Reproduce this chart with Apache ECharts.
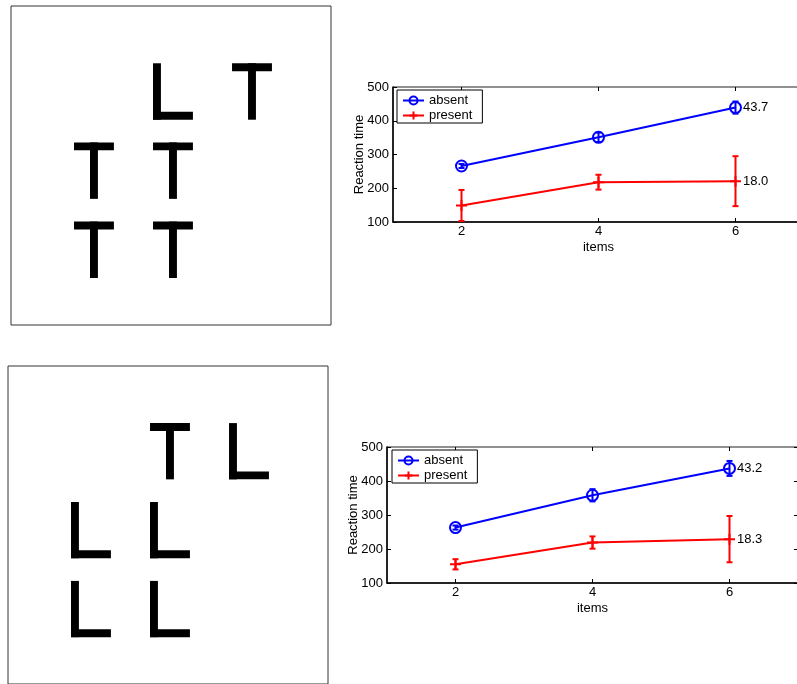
<!DOCTYPE html>
<html>
<head>
<meta charset="utf-8">
<script src="https://cdn.jsdelivr.net/npm/echarts@6/dist/echarts.min.js"></script>
<style>
  html, body { margin: 0; padding: 0; background: #fff; overflow: hidden; }
  /* the figure runs past the right edge of the window, as in the original */
  #chart { width: 812px; height: 684px; }
</style>
</head>
<body>
<div id="chart"></div>
<script>
// search displays (letter grid positions)
const letterCols = [2, 3, 1, 2, 1, 2];
const letterRows = [1, 1, 2, 2, 3, 3];
const topLetters = ['L', 'T', 'T', 'T', 'T', 'T'];
const bottomLetters = ['T', 'L', 'L', 'L', 'L', 'L'];

// reaction time results
const itemCounts = [2, 4, 6];
const rtTicks = [100, 200, 300, 400, 500];
const seriesNames = ['absent', 'present'];

const topAbsent = [266, 351, 439];
const topAbsentErr = [6, 14, 18];
const topPresent = [149, 218, 221];
const topPresentErr = [46, 22, 74];
const topSlopes = ['43.7', '18.0'];

const bottomAbsent = [263, 358, 437];
const bottomAbsentErr = [6, 18, 22];
const bottomPresent = [155, 219, 229];
const bottomPresentErr = [15, 18, 68];
const bottomSlopes = ['43.2', '18.3'];

const FONT = 'Liberation Sans, Arial, Helvetica, sans-serif';
const BLUE = '#0000ff';
const RED = '#ff0000';
const PLUS = 'path://M0,5L10,5M5,0L5,10';

const chart = echarts.init(document.getElementById('chart'));

function letterSeries(letters, gi) {
  return {
    type: 'custom',
    xAxisIndex: gi, yAxisIndex: gi,
    silent: true,
    data: letters.map((l, i) => [letterCols[i], letterRows[i]]),
    renderItem(params, api) {
      const c = api.coord([api.value(0), api.value(1)]);
      const sz = api.size([1, 1]);
      const w = 0.505 * sz[0], h = 0.713 * sz[1], s = 0.1 * sz[0];
      const x0 = c[0] - w / 2, y0 = c[1] - h / 2;
      const st = { fill: '#000' };
      const rects = letters[params.dataIndex] === 'T'
        ? [[x0, y0, w, s], [c[0] - s / 2, y0, s, h]]
        : [[x0, y0, s, h], [x0, y0 + h - s, w, s]];
      return {
        type: 'group',
        children: rects.map(r => ({ type: 'rect', shape: { x: r[0], y: r[1], width: r[2], height: r[3] }, style: st }))
      };
    }
  };
}

function errSeries(name, vals, errs, color, ax) {
  return {
    type: 'custom', name,
    xAxisIndex: ax.x, yAxisIndex: ax.y,
    z: 5, silent: true,
    data: vals.map((v, i) => [itemCounts[i], v - errs[i], v + errs[i]]),
    renderItem(params, api) {
      const lo = api.coord([api.value(0), api.value(1)]);
      const hi = api.coord([api.value(0), api.value(2)]);
      const cap = 3;
      const st = { stroke: color, lineWidth: 2 };
      return {
        type: 'group',
        children: [
          { type: 'line', shape: { x1: lo[0], y1: lo[1], x2: hi[0], y2: hi[1] }, style: st },
          { type: 'line', shape: { x1: lo[0] - cap, y1: lo[1], x2: lo[0] + cap, y2: lo[1] }, style: st },
          { type: 'line', shape: { x1: hi[0] - cap, y1: hi[1], x2: hi[0] + cap, y2: hi[1] }, style: st }
        ]
      };
    }
  };
}

function lineSeries(name, vals, slope, color, symbol, ax) {
  return {
    type: 'line', name,
    xAxisIndex: ax.x, yAxisIndex: ax.y,
    symbol, symbolSize: 11,
    showAllSymbol: true,
    lineStyle: { color, width: 2 },
    itemStyle: { color: 'rgba(0,0,0,0)', borderColor: color, borderWidth: 2 },
    data: vals.map((v, i) => i === vals.length - 1
      ? { value: [itemCounts[i], v], label: { show: true, position: 'right', distance: 1, formatter: slope, color: '#000', fontFamily: FONT, fontSize: 13 } }
      : [itemCounts[i], v]),
    z: 3
  };
}

function plotSeries(absent, absentErr, present, presentErr, slopes, ax) {
  return [
    lineSeries(seriesNames[0], absent, slopes[0], BLUE, 'circle', ax),
    lineSeries(seriesNames[1], present, slopes[1], RED, PLUS, ax),
    errSeries(seriesNames[0], absent, absentErr, BLUE, ax),
    errSeries(seriesNames[1], present, presentErr, RED, ax)
  ];
}

const hidden = { show: false };
function letterX(gi) { return { type: 'value', gridIndex: gi, min: -0.05, max: 4.0, axisLine: hidden, axisTick: hidden, axisLabel: hidden, splitLine: hidden }; }
function letterY(gi) { return { type: 'value', gridIndex: gi, inverse: true, min: -0.08, max: 3.95, axisLine: hidden, axisTick: hidden, axisLabel: hidden, splitLine: hidden }; }

function plotXAxes(gi) {
  return [
    {
      type: 'value', gridIndex: gi, min: 1, max: 7,
      name: 'items', nameLocation: 'middle', nameGap: 19, nameMoveOverlap: false,
      nameTextStyle: { color: '#000', fontFamily: FONT, fontSize: 13 },
      axisLine: { lineStyle: { color: '#000', width: 1.5 } },
      axisTick: { inside: true, length: 4, customValues: itemCounts, lineStyle: { color: '#000' } },
      axisLabel: { customValues: itemCounts, margin: 3, color: '#000', fontFamily: FONT, fontSize: 13 },
      splitLine: hidden
    },
    {
      type: 'value', gridIndex: gi, position: 'top', min: 1, max: 7,
      axisLine: hidden,
      axisTick: { inside: true, length: 4, customValues: itemCounts, lineStyle: { color: '#000' } },
      axisLabel: hidden, splitLine: hidden
    }
  ];
}

function plotYAxes(gi) {
  return [
    {
      type: 'value', gridIndex: gi, min: rtTicks[0], max: rtTicks[rtTicks.length - 1], interval: 100,
      name: 'Reaction time', nameLocation: 'middle', nameGap: 27, nameMoveOverlap: false,
      nameTextStyle: { color: '#000', fontFamily: FONT, fontSize: 13 },
      axisLine: { show: true, lineStyle: { color: '#000', width: 1.5 } },
      axisTick: { show: true, inside: true, length: 4, lineStyle: { color: '#000' } },
      axisLabel: { margin: 4, color: '#000', fontFamily: FONT, fontSize: 13 },
      splitLine: hidden
    },
    {
      type: 'value', gridIndex: gi, position: 'right', min: rtTicks[0], max: rtTicks[rtTicks.length - 1], interval: 100,
      axisLine: hidden,
      axisTick: { show: true, inside: true, length: 4, lineStyle: { color: '#000' } },
      axisLabel: hidden, splitLine: hidden
    }
  ];
}

function legendAt(left, top) {
  return {
    left, top, orient: 'vertical',
    data: seriesNames,
    itemWidth: 21, itemHeight: 10, itemGap: 2,
    padding: [4, 10, 1, 5],
    borderColor: '#000', borderWidth: 1, backgroundColor: '#fff',
    textStyle: { color: '#000', fontFamily: FONT, fontSize: 13 },
    selectedMode: false
  };
}

chart.setOption({
  animation: false,
  backgroundColor: '#fff',
  grid: [
    { left: 11, top: 6, width: 320, height: 319, show: true, borderColor: '#333', borderWidth: 1 },
    { left: 8, top: 366, width: 320, height: 319, show: true, borderColor: '#333', borderWidth: 1 },
    { left: 393, top: 87, width: 411, height: 135, show: true, borderColor: '#222', borderWidth: 1 },
    { left: 387, top: 447, width: 411, height: 136, show: true, borderColor: '#222', borderWidth: 1 }
  ],
  xAxis: [letterX(0), letterX(1), ...plotXAxes(2), ...plotXAxes(3)],
  yAxis: [letterY(0), letterY(1), ...plotYAxes(2), ...plotYAxes(3)],
  legend: [legendAt(397, 90), legendAt(392, 450)],
  series: [
    letterSeries(topLetters, 0),
    letterSeries(bottomLetters, 1),
    ...plotSeries(topAbsent, topAbsentErr, topPresent, topPresentErr, topSlopes, { x: 2, y: 2 }),
    ...plotSeries(bottomAbsent, bottomAbsentErr, bottomPresent, bottomPresentErr, bottomSlopes, { x: 4, y: 4 })
  ]
});
</script>
</body>
</html>
